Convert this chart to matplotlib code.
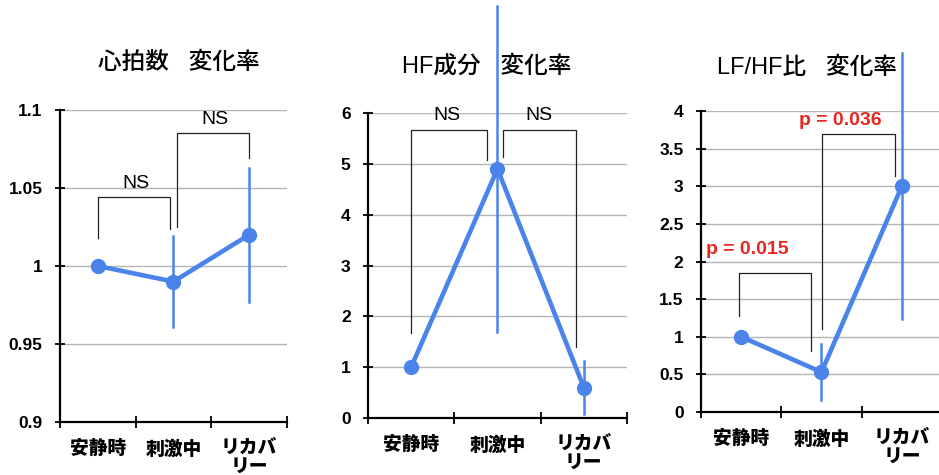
import matplotlib
matplotlib.use("Agg")
import matplotlib.pyplot as plt
from matplotlib.ticker import FuncFormatter

plt.rcParams["font.family"] = ["Liberation Sans", "Noto Sans CJK JP", "DejaVu Sans"]

# ----- data -----
categories = ["安静時", "刺激中", "リカバ\nリー"]

hr_values = [1.0, 0.99, 1.02]
hr_err = [0.0, 0.029, 0.043]
hf_values = [1.0, 4.9, 0.6]
hf_err = [0.0, 3.2, 0.53]
lfhf_values = [1.0, 0.53, 3.0]
lfhf_err = [0.0, 0.37, 1.77]

titles = ["心拍数   変化率", "HF成分   変化率", "LF/HF比   変化率"]
hr_ticks = [0.9, 0.95, 1.0, 1.05, 1.1]
hf_ticks = [0, 1, 2, 3, 4, 5, 6]
lfhf_ticks = [0, 0.5, 1, 1.5, 2, 2.5, 3, 3.5, 4]

# brackets: (x_left, x_right, y_left, y_top, y_right, label, text_x, text_y)
hr_brackets = [(1.0, 1.95, 1.018, 1.044, 1.024, "NS", 1.5, 1.053),
               (2.04, 3.0, 1.025, 1.085, 1.069, "NS", 2.55, 1.094)]
hf_brackets = [(1.0, 1.88, 1.67, 5.67, 5.07, "NS", 1.42, 5.96),
               (2.06, 2.91, 5.13, 5.67, 1.4, "NS", 2.48, 5.96)]
lfhf_brackets = [(0.975, 1.875, 1.27, 1.85, 0.81, "p = 0.015", 1.075, 2.16),
                 (2.01, 2.91, 1.1, 3.69, 3.13, "p = 0.036", 2.24, 3.88)]

BLUE = "#4a84ea"
RED = "#e8271f"

fig = plt.figure(figsize=(9.39, 4.75), dpi=100)
axes_rects = [
    [0.0639, 0.1116, 0.2417, 0.6568],
    [0.3919, 0.1200, 0.2758, 0.6421],
    [0.7465, 0.1326, 0.2567, 0.6337],
]
title_pos = [(0.524, 1.151), (0.4575, 1.154), (0.44, 1.144)]

panels = [
    (hr_values, hr_err, hr_ticks, hr_brackets, "black"),
    (hf_values, hf_err, hf_ticks, hf_brackets, "black"),
    (lfhf_values, lfhf_err, lfhf_ticks, lfhf_brackets, RED),
]

x = [1, 2, 3]
for i, (vals, errs, yt, brackets, tcolor) in enumerate(panels):
    ax = fig.add_axes(axes_rects[i])
    ax.plot(x, vals, color=BLUE, lw=3.3, marker="o", ms=10, zorder=4, clip_on=False)
    for xi, v, e in zip(x, vals, errs):
        if e > 0:
            ax.plot([xi, xi], [v - e, v + e], color=BLUE, lw=1.8, zorder=3, clip_on=False)

    for (xl, xr, yl, ytop, yr, label, tx, ty) in brackets:
        ax.plot([xl, xl, xr, xr], [yl, ytop, ytop, yr], color="#222222", lw=0.9,
                zorder=2, clip_on=False)
        ax.text(tx, ty, label, ha="center", va="center",
                fontsize=14 if tcolor == RED else 14,
                color=tcolor, fontweight="bold" if tcolor == RED else "normal",
                clip_on=False)

    ax.set_xlim(0.5, 3.5)
    ax.set_ylim(yt[0], yt[-1])
    ax.set_yticks(yt)
    ax.yaxis.set_major_formatter(FuncFormatter(lambda v, p: "{:g}".format(v)))
    ax.set_xticks([0.5, 1.5, 2.5, 3.5])
    ax.set_xticklabels([])
    ax.set_xticks(x, minor=True)
    ax.set_xticklabels(categories, minor=True, fontsize=13.5, fontweight="heavy",
                       linespacing=1.1)
    ax.tick_params(axis="x", which="major", direction="inout", length=8, width=1.3)
    ax.tick_params(axis="x", which="minor", length=0, pad=13)
    ax.tick_params(axis="y", direction="inout", length=7, width=1.3, pad=9,
                   labelsize=12.5)
    for t in ax.get_yticklabels():
        t.set_fontweight("bold")
    ax.yaxis.grid(True, color="#b5b5b5", lw=1.0)
    ax.set_axisbelow(True)
    for s in ["top", "right"]:
        ax.spines[s].set_visible(False)
    for s in ["left", "bottom"]:
        ax.spines[s].set_linewidth(1.6)
        ax.spines[s].set_zorder(5)

    ax.text(title_pos[i][0], title_pos[i][1], titles[i], transform=ax.transAxes,
            ha="center", va="center", fontsize=17, fontweight="medium")

fig.savefig("out.png", dpi=100)
